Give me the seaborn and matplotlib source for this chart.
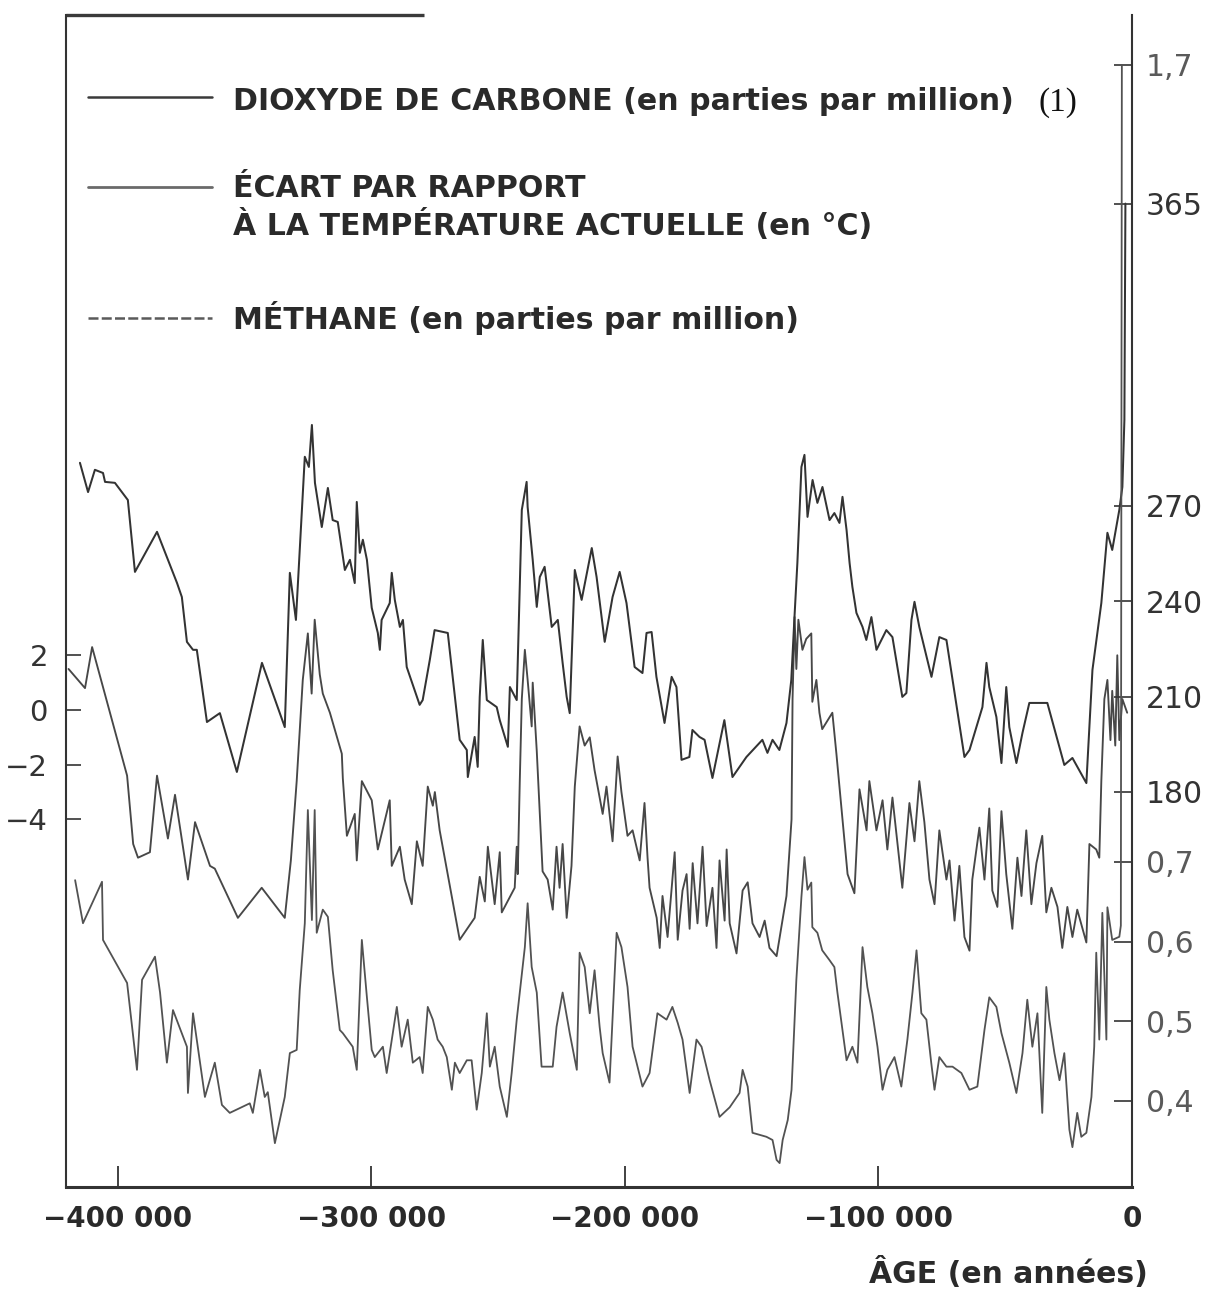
import numpy as np
import pandas as pd
import matplotlib
matplotlib.use("Agg")
import matplotlib.pyplot as plt
from matplotlib.lines import Line2D
import seaborn as sns

# ---------------- data (ice-core record, ages in thousands of years) ----------------
co2_age_kyr = [-415.0, -411.8, -409.1, -405.9, -405.1, -401.2, -396.1, -393.3, -384.6, -376.7,
               -374.8, -372.8, -370.4, -368.9, -364.9, -359.8, -353.1, -343.2, -334.2, -332.2,
               -329.8, -326.3, -324.7, -323.5, -322.3, -319.6, -317.2, -315.3, -313.3, -310.5,
               -308.5, -306.6, -305.8, -304.6, -303.4, -301.8, -299.9, -297.5, -296.7, -296.0,
               -292.8, -292.0, -290.8, -288.8, -287.6, -286.1, -281.0, -279.8, -277.0, -275.1,
               -269.9, -265.2, -262.4, -262.0, -259.3, -258.1, -257.3, -256.1, -254.5, -250.6,
               -249.4, -246.2, -245.4, -242.7, -240.7, -238.8, -238.4, -236.4, -234.8, -233.6,
               -231.7, -228.9, -226.5, -224.6, -223.0, -221.8, -219.8, -217.1, -213.1, -211.2,
               -208.0, -204.9, -202.1, -199.4, -196.2, -193.1, -191.5, -189.5, -187.6, -184.4,
               -181.6, -179.7, -177.7, -174.6, -173.4, -170.6, -168.6, -165.5, -160.8, -157.6,
               -152.1, -145.8, -143.8, -141.8, -139.1, -136.3, -134.4, -133.2, -132.0, -130.4,
               -129.2, -128.0, -126.0, -124.1, -122.1, -119.3, -117.4, -115.4, -114.2, -112.6,
               -111.4, -110.3, -108.7, -106.3, -104.8, -102.8, -100.8, -96.9, -94.5, -90.6,
               -89.0, -87.0, -85.8, -83.9, -79.1, -76.0, -73.2, -66.1, -64.1, -59.0,
               -57.4, -56.3, -53.5, -51.5, -49.6, -48.4, -45.6, -43.2, -40.5, -33.4,
               -26.7, -23.5, -18.0, -15.6, -12.1, -9.7, -7.8, -5.0, -3.8, -3.0, -2.6]
co2_ppm = [283.5, 274.3, 281.3, 280.3, 277.5, 277.2, 271.8, 249.2, 261.8, 245.7,
           241.3, 227.2, 224.7, 224.7, 202.0, 204.8, 186.3, 220.6, 200.4, 248.9,
           234.1, 285.4, 282.2, 295.4, 277.2, 263.3, 275.6, 265.5, 264.9, 249.8,
           253.0, 245.7, 271.2, 255.2, 259.3, 253.0, 237.9, 230.0, 224.7, 234.1,
           239.4, 248.9, 240.4, 231.9, 234.1, 219.3, 207.4, 208.9, 221.5, 230.9,
           230.0, 196.4, 193.2, 184.7, 197.3, 187.9, 209.9, 227.8, 208.9, 206.7,
           202.6, 194.2, 213.0, 208.9, 268.7, 277.5, 269.6, 253.0, 238.2, 247.6,
           250.8, 231.9, 234.1, 220.6, 209.9, 204.8, 249.8, 240.4, 256.7, 247.6,
           227.2, 241.3, 249.2, 239.4, 219.3, 217.4, 230.0, 230.3, 216.2, 201.7,
           216.2, 213.0, 190.1, 191.0, 199.5, 197.3, 196.4, 184.4, 202.6, 184.7,
           191.0, 196.4, 192.3, 196.4, 193.2, 201.7, 215.2, 234.1, 252.0, 282.2,
           286.0, 266.5, 278.1, 270.9, 275.9, 265.5, 267.7, 264.6, 272.8, 262.4,
           252.0, 244.5, 236.3, 231.9, 227.8, 235.0, 224.7, 230.9, 228.7, 209.9,
           211.1, 234.1, 239.8, 231.9, 216.2, 228.7, 227.8, 191.0, 193.2, 206.7,
           220.6, 213.0, 203.6, 189.1, 213.0, 200.4, 189.1, 198.6, 208.0, 208.0,
           188.5, 190.7, 182.8, 218.4, 239.4, 261.5, 256.1, 268.7, 275.9, 297.0, 365.0]

temp_age_kyr = [-419.5, -413.0, -410.2, -396.4, -394.0, -392.1, -387.4, -384.6, -380.3, -377.5,
                -372.4, -369.6, -363.7, -361.8, -352.7, -343.3, -334.2, -331.8, -329.5, -327.1,
                -325.1, -323.6, -322.4, -320.4, -319.2, -316.4, -311.7, -311.3, -309.7, -306.6,
                -305.8, -303.8, -299.9, -297.5, -292.8, -292.0, -288.8, -286.9, -284.1, -282.1,
                -279.8, -277.8, -275.8, -275.0, -273.1, -265.2, -259.3, -257.3, -255.3, -254.1,
                -251.4, -249.4, -248.6, -243.5, -242.7, -242.3, -241.5, -240.7, -239.5, -238.4,
                -236.8, -236.4, -234.8, -232.5, -230.5, -228.5, -227.0, -225.8, -224.6, -223.0,
                -221.1, -219.8, -217.9, -215.9, -213.9, -212.0, -208.8, -207.3, -204.9, -202.9,
                -201.4, -199.0, -197.0, -194.2, -192.3, -191.1, -190.3, -187.5, -186.3, -185.2,
                -183.2, -180.4, -179.2, -177.3, -175.7, -174.5, -173.3, -171.4, -169.4, -167.8,
                -165.5, -163.9, -162.7, -160.7, -159.9, -158.7, -156.0, -153.6, -151.6, -149.7,
                -146.9, -144.9, -143.0, -140.2, -136.3, -134.3, -133.9, -133.1, -132.4, -131.6,
                -130.0, -128.5, -126.5, -126.1, -124.5, -123.3, -122.2, -118.2, -116.6, -114.2,
                -112.2, -109.5, -107.5, -104.7, -103.6, -100.8, -98.4, -96.5, -94.5, -90.6,
                -87.8, -85.8, -83.9, -81.9, -79.9, -77.9, -76.0, -73.2, -72.0, -70.0,
                -68.1, -66.1, -64.1, -63.0, -60.2, -58.2, -56.3, -55.1, -53.1, -51.5,
                -49.6, -47.2, -45.2, -43.6, -41.7, -39.7, -37.7, -35.4, -33.8, -31.8,
                -29.4, -27.5, -25.5, -23.5, -21.6, -18.0, -16.8, -14.1, -12.9, -12.1,
                -10.9, -9.7, -8.5, -7.8, -6.6, -5.8, -5.0, -3.8, -1.9]
temp_anomaly = [1.5, 0.8, 2.3, -2.4, -4.9, -5.4, -5.2, -2.4, -4.7, -3.1,
                -6.2, -4.1, -5.7, -5.8, -7.6, -6.5, -7.6, -5.5, -2.6, 1.1,
                2.8, 0.6, 3.3, 1.3, 0.6, -0.1, -1.6, -2.5, -4.6, -3.8,
                -5.5, -2.6, -3.3, -5.1, -3.3, -5.7, -5.0, -6.2, -7.1, -4.8,
                -5.7, -2.8, -3.5, -3.0, -4.4, -8.4, -7.6, -6.1, -7.0, -5.0,
                -7.1, -5.2, -7.4, -6.5, -5.0, -6.0, -2.6, 0.4, 2.2, 1.1,
                -0.6, 1.0, -1.5, -5.9, -6.2, -7.3, -5.0, -6.5, -4.9, -7.6,
                -5.7, -2.8, -0.6, -1.3, -1.0, -2.2, -3.8, -2.8, -4.8, -1.7,
                -3.0, -4.6, -4.4, -5.5, -3.4, -5.4, -6.5, -7.6, -8.7, -6.8,
                -8.3, -5.2, -8.4, -6.6, -6.0, -8.0, -5.6, -7.8, -5.0, -7.9,
                -6.5, -8.7, -5.5, -7.7, -5.1, -7.8, -8.9, -6.6, -6.3, -7.8,
                -8.3, -7.7, -8.7, -9.0, -6.8, -4.0, 0.4, 3.4, 1.5, 3.3,
                2.2, 2.6, 2.8, 0.3, 1.1, -0.1, -0.7, -0.1, -1.6, -4.0,
                -6.0, -6.7, -2.9, -4.4, -2.6, -4.4, -3.3, -5.1, -3.2, -6.5,
                -3.4, -4.8, -2.6, -4.1, -6.2, -7.1, -4.4, -6.2, -5.5, -7.7,
                -5.7, -8.3, -8.8, -6.2, -4.3, -6.2, -3.6, -6.6, -7.2, -3.7,
                -6.0, -8.0, -5.4, -6.8, -4.4, -7.1, -5.6, -4.6, -7.4, -6.5,
                -7.2, -8.7, -7.2, -8.3, -7.3, -8.5, -4.9, -5.1, -5.4, -2.6,
                0.4, 1.1, -1.1, 0.7, -1.3, 2.0, -1.1, 0.4, -0.1]

ch4_age_kyr = [-416.9, -413.8, -406.3, -405.9, -396.4, -392.5, -390.5, -385.4, -383.4, -380.7,
               -378.3, -372.8, -372.4, -370.4, -365.7, -361.8, -359.0, -355.9, -348.0, -346.8,
               -344.0, -342.1, -340.9, -338.1, -334.2, -332.2, -329.5, -328.3, -326.3, -325.1,
               -323.5, -322.4, -321.6, -319.2, -317.2, -315.3, -312.5, -311.3, -307.4, -305.8,
               -303.8, -301.8, -299.9, -298.7, -295.5, -294.0, -290.0, -288.1, -285.7, -283.7,
               -281.0, -279.8, -277.8, -275.8, -273.9, -271.9, -270.3, -268.3, -267.1, -265.2,
               -262.4, -260.5, -258.5, -256.5, -254.5, -253.3, -251.4, -249.4, -246.6, -244.7,
               -242.7, -239.5, -238.4, -236.8, -234.8, -232.9, -228.5, -227.0, -224.6, -221.8,
               -219.0, -217.9, -215.9, -213.9, -212.0, -210.0, -208.8, -206.1, -203.3, -201.4,
               -199.0, -197.0, -193.1, -190.3, -187.2, -183.6, -181.3, -179.2, -177.3, -174.5,
               -171.8, -169.8, -166.6, -162.7, -158.7, -154.8, -153.6, -151.6, -149.7, -144.2,
               -141.8, -140.2, -139.0, -137.8, -135.8, -134.3, -132.4, -130.4, -129.2, -128.0,
               -126.5, -126.1, -124.1, -122.2, -119.4, -117.4, -116.2, -114.2, -112.6, -110.3,
               -108.3, -106.3, -104.4, -102.4, -100.4, -98.4, -96.5, -93.7, -91.0, -88.6,
               -86.6, -85.0, -83.1, -81.1, -79.2, -77.9, -76.0, -73.2, -70.8, -67.3,
               -64.1, -61.0, -58.2, -56.3, -53.5, -51.5, -48.4, -45.6, -43.2, -41.3,
               -39.3, -37.3, -35.4, -33.8, -32.6, -30.6, -28.6, -26.7, -24.7, -23.5,
               -21.6, -20.0, -18.0, -16.0, -14.9, -14.1, -12.9, -11.7, -10.1, -9.7,
               -7.8, -5.0, -4.4, -4.0]
ch4_ppm = [0.677, 0.623, 0.675, 0.602, 0.548, 0.439, 0.552, 0.581, 0.536, 0.448,
           0.514, 0.468, 0.410, 0.510, 0.405, 0.448, 0.395, 0.385, 0.397, 0.385,
           0.439, 0.405, 0.411, 0.347, 0.405, 0.460, 0.464, 0.539, 0.623, 0.765,
           0.627, 0.765, 0.611, 0.640, 0.631, 0.564, 0.489, 0.485, 0.468, 0.439,
           0.602, 0.530, 0.464, 0.455, 0.468, 0.435, 0.518, 0.468, 0.502, 0.448,
           0.455, 0.435, 0.518, 0.502, 0.477, 0.468, 0.455, 0.414, 0.448, 0.435,
           0.451, 0.451, 0.389, 0.435, 0.510, 0.443, 0.468, 0.418, 0.380, 0.435,
           0.502, 0.593, 0.648, 0.568, 0.536, 0.443, 0.443, 0.493, 0.536, 0.485,
           0.439, 0.586, 0.568, 0.510, 0.564, 0.493, 0.460, 0.423, 0.611, 0.593,
           0.543, 0.468, 0.418, 0.435, 0.510, 0.502, 0.518, 0.498, 0.477, 0.410,
           0.477, 0.468, 0.426, 0.380, 0.392, 0.410, 0.439, 0.418, 0.360, 0.355,
           0.351, 0.326, 0.322, 0.351, 0.376, 0.414, 0.552, 0.656, 0.706, 0.665,
           0.674, 0.618, 0.611, 0.589, 0.577, 0.568, 0.536, 0.489, 0.451, 0.468,
           0.448, 0.593, 0.543, 0.510, 0.468, 0.414, 0.439, 0.455, 0.418, 0.477,
           0.536, 0.589, 0.510, 0.502, 0.448, 0.414, 0.455, 0.443, 0.443, 0.435,
           0.414, 0.418, 0.489, 0.530, 0.518, 0.485, 0.448, 0.410, 0.460, 0.527,
           0.468, 0.510, 0.385, 0.543, 0.502, 0.460, 0.426, 0.460, 0.364, 0.342,
           0.385, 0.355, 0.360, 0.405, 0.468, 0.586, 0.477, 0.636, 0.477, 0.643,
           0.602, 0.606, 0.620, 1.700]

x_ticks = [-400000, -300000, -200000, -100000, 0]
temp_ticks = [2, 0, -2, -4]
co2_ticks = [180, 210, 240, 270, 365]
ch4_ticks = [0.4, 0.5, 0.6, 0.7, 1.7]

legend_labels = ["DIOXYDE DE CARBONE (en parties par million)",
                 "ÉCART PAR RAPPORT\nÀ LA TEMPÉRATURE ACTUELLE (en °C)",
                 "MÉTHANE (en parties par million)"]

# ---------------- frames ----------------
co2_df = pd.DataFrame({"age": np.array(co2_age_kyr) * 1000, "value": co2_ppm})
temp_df = pd.DataFrame({"age": np.array(temp_age_kyr) * 1000, "value": temp_anomaly})
ch4_df = pd.DataFrame({"age": np.array(ch4_age_kyr) * 1000, "value": ch4_ppm})

sns.set_style("white")
plt.rcParams["font.family"] = ["DejaVu Sans"]

W, H = 1219, 1293
fig = plt.figure(figsize=(W / 100, H / 100), dpi=100, facecolor="white")

left_px, right_px, top_px, bottom_px = 66, 1132, 15, 1187
ax = fig.add_axes([left_px / W, 1 - bottom_px / H,
                   (right_px - left_px) / W, (bottom_px - top_px) / H])
ax_c = ax.twinx()
ax_m = ax.twinx()

ink = "#333333"
co2_col, temp_col, ch4_col = "#333333", "#474747", "#525252"

sns.lineplot(data=temp_df, x="age", y="value", ax=ax, color=temp_col, linewidth=1.35,
             estimator=None, sort=False, legend=False)
sns.lineplot(data=co2_df, x="age", y="value", ax=ax_c, color=co2_col, linewidth=1.45,
             estimator=None, sort=False, legend=False)
sns.lineplot(data=ch4_df, x="age", y="value", ax=ax_m, color=ch4_col, linewidth=1.3,
             estimator=None, sort=False, legend=False)

# ---------------- scales ----------------
ax.set_xlim(-420500, 0)
ax.set_ylim(-17.44, 25.41)
ax_c.set_ylim(55.8, 424.3)
ax_m.set_ylim(0.292, 1.7626)

for a in (ax, ax_c, ax_m):
    a.set_xlabel("")
    a.set_ylabel("")
    a.set_facecolor("none")
    for s in a.spines.values():
        s.set_visible(False)

ax.spines["left"].set_visible(True)
ax.spines["right"].set_visible(True)
ax.spines["bottom"].set_visible(True)
ax.spines["left"].set_linewidth(1.5)
ax.spines["right"].set_linewidth(1.5)
ax.spines["bottom"].set_linewidth(2.2)
for s in ("left", "right", "bottom"):
    ax.spines[s].set_color(ink)
# short stretch of upper frame
ax.plot([0, 0.336], [1, 1], transform=ax.transAxes, color="#3a3a3a", lw=2.4,
        clip_on=False, solid_capstyle="butt")

# x axis
ax.set_xticks(x_ticks)
ax.set_xticklabels([("−" if v < 0 else "") + f"{abs(v):,}".replace(",", " ") for v in x_ticks],
                   fontsize=20, fontweight="bold", color="#2a2a2a")
ax.tick_params(axis="x", direction="in", length=15, width=1.3, color=ink, pad=13,
               bottom=True, top=False)
ax.set_xlabel("ÂGE (en années)", fontsize=21.5, fontweight="bold", color="#2a2a2a")
ax.xaxis.label.set_ha("right")
ax.xaxis.label.set_va("baseline")
ax.xaxis.set_label_coords((1148 - left_px) / (right_px - left_px),
                          -(1283 - bottom_px) / (bottom_px - top_px))

# temperature axis (left)
ax.set_yticks(temp_ticks)
ax.set_yticklabels([("−" if v < 0 else "") + str(abs(v)) for v in temp_ticks],
                   fontsize=21, color=ink)
ax.tick_params(axis="y", direction="in", length=11, width=1.2, color=ink, pad=13,
               left=True, right=False, labelleft=True, labelright=False)

# CO2 axis (right)
ax_c.set_yticks(co2_ticks)
ax_c.set_yticklabels([str(v) for v in co2_ticks], fontsize=21.5, color="#333333")
ax_c.tick_params(axis="y", direction="in", length=13, width=1.2, color=ink, pad=10,
                 left=False, right=True, labelleft=False, labelright=True)

# methane axis (right)
ax_m.set_yticks(ch4_ticks)
ax_m.set_yticklabels([f"{v:.1f}".replace(".", ",") for v in ch4_ticks],
                     fontsize=21.5, color="#5a5a5a")
ax_m.tick_params(axis="y", direction="in", length=13, width=1.2, color=ink, pad=10,
                 left=False, right=True, labelleft=False, labelright=True)

for a in (ax_c, ax_m):
    a.tick_params(axis="x", bottom=False, top=False, labelbottom=False)


# ---------------- key ----------------
def fx(px):
    return px / W


def fy(py):
    return 1 - py / H


key_rows = [
    (97, dict(color="#3a3a3a", lw=1.8, ls="-")),
    (187, dict(color="#6a6a6a", lw=2.0, ls="-")),
    (318, dict(color="#5a5a5a", lw=1.8, ls=(0, (4, 1.3)))),
]
for y, style in key_rows:
    fig.add_artist(Line2D([fx(88), fx(212)], [fy(y), fy(y)], transform=fig.transFigure,
                          **style))

txt_kw = dict(fontsize=21.6, fontweight="bold", color="#2a2a2a", ha="left", va="baseline")
fig.text(fx(233), fy(110), legend_labels[0], **txt_kw)
first, second = legend_labels[1].split("\n")
fig.text(fx(233), fy(197), first, **txt_kw)
fig.text(fx(233), fy(235), second, **txt_kw)
fig.text(fx(233), fy(329), legend_labels[2], **txt_kw)
fig.text(fx(1038), fy(111), "(1)", fontsize=24, color="#111111", ha="left", va="baseline",
         family=["Liberation Serif", "DejaVu Serif"])

fig.savefig("out.png", dpi=100, facecolor="white")
